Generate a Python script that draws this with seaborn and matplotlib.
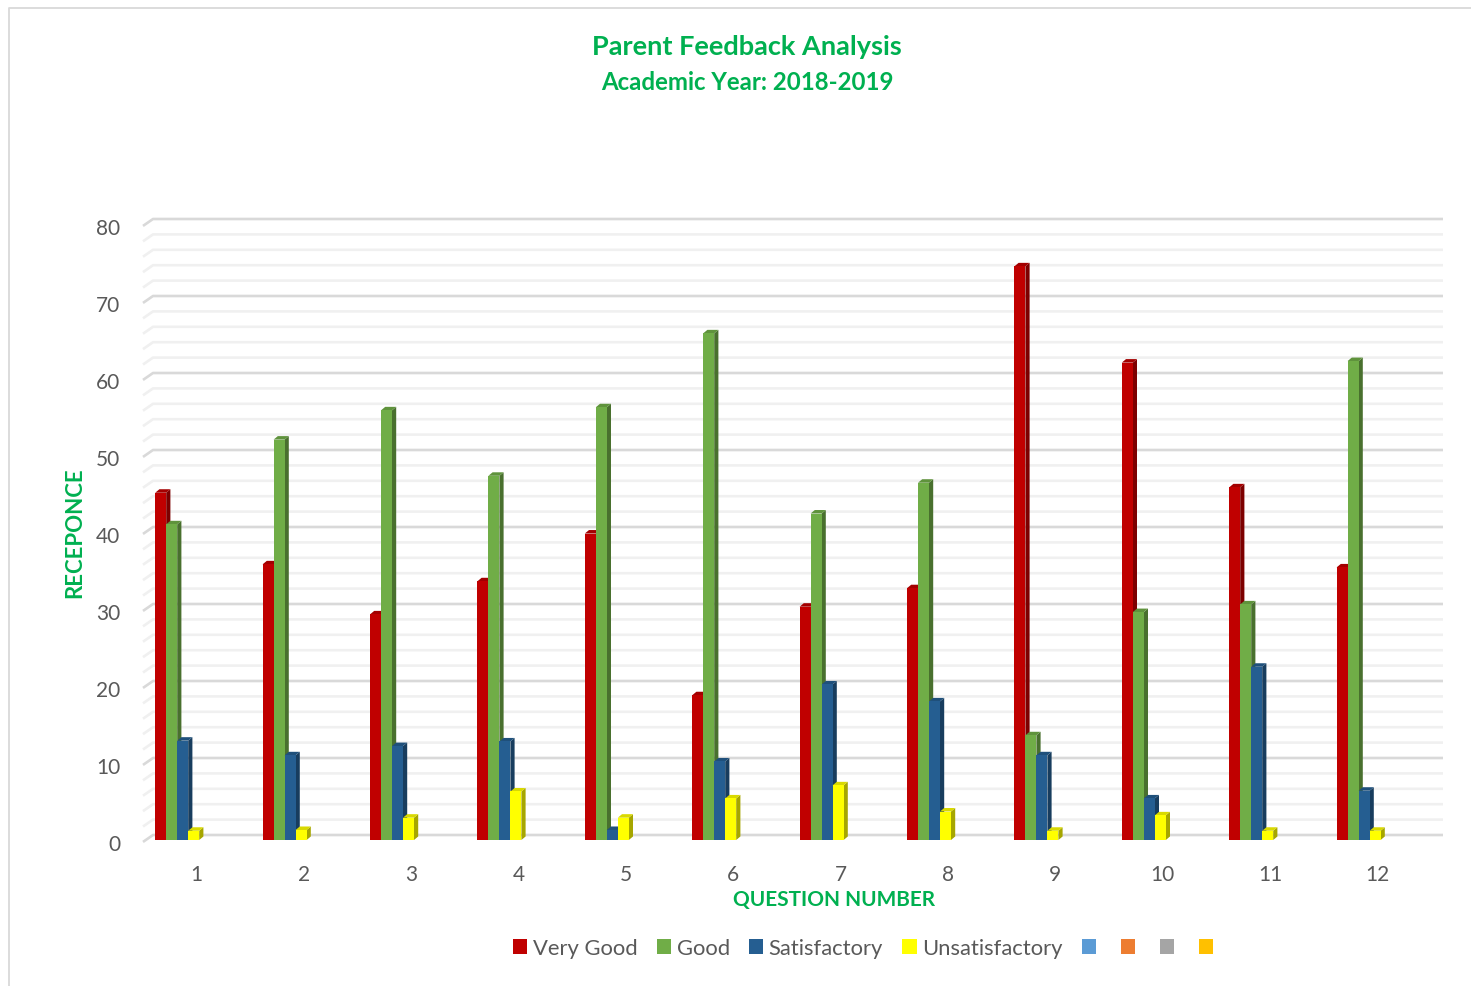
import matplotlib
matplotlib.use('Agg')
import matplotlib.pyplot as plt
import numpy as np
import pandas as pd
import seaborn as sns
from matplotlib.lines import Line2D
from matplotlib.patches import Patch, Polygon
from matplotlib.transforms import ScaledTranslation

# data
questions = ['1', '2', '3', '4', '5', '6', '7', '8', '9', '10', '11', '12']
very_good = [45.1, 35.8, 29.3, 33.6, 39.8, 18.8, 30.3, 32.7, 74.5, 62.0, 45.8, 35.4]
good = [41.0, 52.0, 55.8, 47.3, 56.2, 65.8, 42.4, 46.4, 13.6, 29.6, 30.6, 62.2]
satisfactory = [12.9, 11.0, 12.2, 12.8, 1.3, 10.2, 20.2, 18.0, 11.0, 5.4, 22.5, 6.4]
unsatisfactory = [1.2, 1.3, 2.9, 6.3, 2.9, 5.4, 7.1, 3.7, 1.2, 3.2, 1.2, 1.2]

series_names = ['Very Good', 'Good', 'Satisfactory', 'Unsatisfactory', 's5', 's6', 's7', 's8']
legend_labels = ['Very Good', 'Good', 'Satisfactory', 'Unsatisfactory', '', '', '', '']
colors = ['#C00000', '#70AD47', '#255E91', '#FFFF00', '#5B9BD5', '#ED7D31', '#A5A5A5', '#FFC000']

GREEN = '#00B050'
TEXT = '#595959'
W, H = 1471, 987

sns.set_theme(style='white')
plt.rcParams['font.family'] = ['Lato', 'DejaVu Sans']

df = pd.DataFrame({
    'question': questions * 4,
    'series': np.repeat(series_names[:4], 12),
    'value': very_good + good + satisfactory + unsatisfactory,
})

fig = plt.figure(figsize=(W / 100, H / 100), dpi=100)

# axes placed in pixels: value 0 sits at y=841, 7.7 px per unit, 107.4 px per question
left, right, bottom = 145.5, 1443, 841
px_x, px_y = 107.4, 7.7
ymax = 81
ax = fig.add_axes([left / W, 1 - bottom / H, (right - left) / W, ymax * px_y / H])

sns.barplot(data=df, x='question', y='value', hue='series', order=questions,
            hue_order=series_names, palette=colors, saturation=1, width=88 / px_x,
            gap=0, linewidth=0, legend=False, ax=ax, zorder=3)

ax.set_xlim(-0.5, -0.5 + (right - left) / px_x)
ax.set_ylim(0, ymax)
sns.despine(ax=ax, left=True, bottom=True)

# back wall gridlines with the little diagonal on the side wall
wall_x, wall_y = 10 / px_x, 5 / px_y
x0 = -0.5 - 2.5 / px_x
for v in range(0, 81, 2):
    major = v % 10 == 0
    ax.plot([x0, x0 + wall_x, ax.get_xlim()[1]], [v - 0.25, v + wall_y, v + wall_y],
            color='#D9D9D9' if major else '#F0F0F0', lw=1.9, zorder=1,
            clip_on=False, solid_capstyle='butt')


def shade(color, k):
    return tuple(np.array(matplotlib.colors.to_rgb(color)) * k)


# fake 3D: side and top faces built from each bar
dx, dy = 4.2 / px_x, 3.5 / px_y
for i, container in enumerate(ax.containers):
    color = colors[i]
    for bar in container:
        h = bar.get_height()
        if not np.isfinite(h) or h <= 0:
            continue
        x1 = bar.get_x()
        x2 = x1 + bar.get_width()
        bar.set_zorder(3 + i + 0.5)
        ax.add_patch(Polygon([(x2, 0), (x2 + dx, dy), (x2 + dx, h + dy), (x2, h)],
                             facecolor=shade(color, 0.65), edgecolor='none', zorder=3 + i, clip_on=False))
        ax.add_patch(Polygon([(x1, h), (x2, h), (x2 + dx, h + dy), (x1 + dx, h + dy)],
                             facecolor=shade(color, 0.85), edgecolor='none', zorder=3 + i, clip_on=False))

ax.set_yticks(range(0, 81, 10))
ax.tick_params(axis='both', length=0, labelsize=15, labelcolor=TEXT)
ax.tick_params(axis='y', pad=18)
ax.tick_params(axis='x', pad=17)

# tick labels sit a little off the bar groups in the original
for lab in ax.get_xticklabels():
    lab.set_transform(lab.get_transform() + ScaledTranslation(-3 / 100, 0, fig.dpi_scale_trans))
for lab in ax.get_yticklabels():
    lab.set_transform(lab.get_transform() + ScaledTranslation(0, -2.5 / 100, fig.dpi_scale_trans))

ax.set_xlabel('QUESTION NUMBER', fontsize=15, fontweight='bold', color=GREEN)
ax.xaxis.set_label_coords((834 - left) / (right - left), -(900 - bottom) / (ymax * px_y), transform=ax.transAxes)
ax.xaxis.label.set_va('center')
ax.set_ylabel('RECEPONCE', fontsize=16, fontweight='bold', color=GREEN)
ax.yaxis.set_label_coords((75 - left) / (right - left), (bottom - 533) / (ymax * px_y), transform=ax.transAxes)
ax.yaxis.label.set_va('center')

fig.text(747 / W, 1 - 47 / H, 'Parent Feedback Analysis', color=GREEN, fontsize=19.5,
         fontweight='bold', ha='center', va='center')
fig.text(747 / W, 1 - 83 / H, 'Academic Year: 2018-2019', color=GREEN, fontsize=17.3,
         fontweight='bold', ha='center', va='center')

handles = [Patch(facecolor=c, edgecolor='none') for c in colors]
fig.legend(handles, legend_labels, ncols=8, frameon=False, fontsize=15.8, labelcolor=TEXT,
           loc='center', bbox_to_anchor=(866 / W, 1 - 949 / H),
           handlelength=0.65, handleheight=0.7, handletextpad=0.25, columnspacing=0.88,
           borderpad=0, borderaxespad=0)

# chart frame, only the left and top edges show
fig.add_artist(Line2D([8.5 / W, 8.5 / W, 1], [0, 1 - 8.5 / H, 1 - 8.5 / H], color='#D9D9D9', lw=1.3))

fig.savefig('out.png', dpi=100)
